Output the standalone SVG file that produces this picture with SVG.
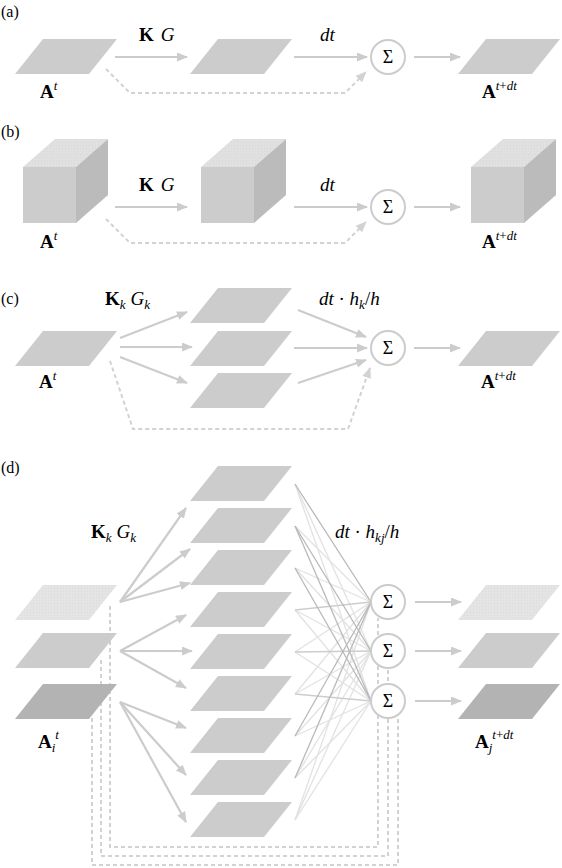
<svg xmlns="http://www.w3.org/2000/svg" width="562" height="868" viewBox="0 0 562 868">
<style>
text{font-family:'Liberation Serif','DejaVu Serif',serif;fill:#000}
.lbl{font-size:19px}
.sig{font-size:18px;text-anchor:middle}
.sup{font-size:13px}
.it{font-style:italic}
.bf{font-weight:bold}
.pg{fill:#cccccc}
.pgl{fill:url(#dotsL)}
.pgd{fill:#b3b3b3}
.arr{stroke:#cccccc;stroke-width:2.2;fill:none;marker-end:url(#ah)}
.dash{stroke:#d2d2d2;stroke-width:2;fill:none;stroke-dasharray:4 3}
.dasha{stroke:#d2d2d2;stroke-width:2;fill:none;stroke-dasharray:4 3;marker-end:url(#ahd)}
.sum{fill:#fff;stroke:#cccccc;stroke-width:2}
.wl{stroke:#e2e2e2;stroke-width:1.3}
.wm{stroke:#cdcdcd;stroke-width:1.3}
.wd{stroke:#b9b9b9;stroke-width:1.3}
</style>
<defs>
<marker id="ah" markerUnits="userSpaceOnUse" markerWidth="12" markerHeight="10" refX="10" refY="4.5" orient="auto"><path d="M0,0 L11,4.5 L0,9 Z" fill="#cccccc"/></marker>
<marker id="ahd" markerUnits="userSpaceOnUse" markerWidth="12" markerHeight="10" refX="10" refY="4.5" orient="auto"><path d="M0,0 L11,4.5 L0,9 Z" fill="#d2d2d2"/></marker>
<pattern id="dotsL" width="3" height="3" patternUnits="userSpaceOnUse"><rect width="3" height="3" fill="#e4e4e4"/><rect width="1" height="1" fill="#dadada"/></pattern>
<pattern id="dotsT" width="3" height="3" patternUnits="userSpaceOnUse"><rect width="3" height="3" fill="#e0e0e0"/><rect width="1" height="1" fill="#d8d8d8"/></pattern>
<path id="pgs" d="M0,35 L74,35 L102,0 L28,0 Z"/>
<g id="cube">
<rect x="0" y="28" width="53" height="56" fill="#cccccc"/>
<path d="M0,28 L32,0 L85,0 L53,28 Z" fill="url(#dotsT)"/>
<path d="M53,28 L85,0 L85,56 L53,84 Z" fill="#bbbbbb"/>
</g>
</defs>

<g id="panel-labels">
<text x="1" y="17" font-size="16">(a)</text>
<text x="1" y="137" font-size="16">(b)</text>
<text x="1" y="304" font-size="16">(c)</text>
<text x="1" y="473" font-size="16">(d)</text>
</g>

<g id="connectors">
<!-- (a) -->
<line class="arr" x1="115" y1="57" x2="187" y2="57"/>
<line class="arr" x1="294" y1="57" x2="367" y2="57"/>
<line class="arr" x1="414" y1="57" x2="460" y2="57"/>
<polyline class="dasha" points="106,69 130,93 345,93 366,72"/>
<!-- (b) -->
<line class="arr" x1="115" y1="207" x2="187" y2="207"/>
<line class="arr" x1="294" y1="207" x2="367" y2="207"/>
<line class="arr" x1="414" y1="207" x2="460" y2="207"/>
<polyline class="dasha" points="106,219 130,243 345,243 366,222"/>
<!-- (c) -->
<line class="arr" x1="120" y1="338" x2="187" y2="312"/>
<line class="arr" x1="120" y1="347" x2="192" y2="347"/>
<line class="arr" x1="120" y1="357" x2="187" y2="383"/>
<line class="arr" x1="298" y1="310" x2="366" y2="337"/>
<line class="arr" x1="294" y1="348" x2="367" y2="348"/>
<line class="arr" x1="298" y1="383" x2="366" y2="360"/>
<line class="arr" x1="414" y1="348" x2="460" y2="348"/>
<polyline class="dasha" points="110,361 133,429 348,429 370,368"/>
<!-- (d) dashed skip connections -->
<polyline class="dash" points="110,606 110,847 378,847 378,618"/>
<polyline class="dash" points="101,660 101,856 388,856 388,668"/>
<polyline class="dash" points="92,718 92,865 398,865 398,714"/>
<!-- (d) fan-out -->
<line class="arr" x1="120" y1="602" x2="186" y2="508"/>
<line class="arr" x1="120" y1="602" x2="190" y2="549"/>
<line class="arr" x1="120" y1="602" x2="190" y2="583"/>
<line class="arr" x1="120" y1="651" x2="186" y2="615"/>
<line class="arr" x1="120" y1="651" x2="192" y2="651"/>
<line class="arr" x1="120" y1="651" x2="186" y2="688"/>
<line class="arr" x1="120" y1="702" x2="186" y2="728"/>
<line class="arr" x1="120" y1="702" x2="186" y2="775"/>
<line class="arr" x1="120" y1="702" x2="186" y2="822"/>
<!-- (d) weighted sums -->
<g class="wl">
<line x1="295" y1="484" x2="371" y2="651"/><line x1="295" y1="484" x2="371" y2="701"/>
<line x1="295" y1="526" x2="371" y2="602"/>
<line x1="295" y1="568" x2="371" y2="602"/><line x1="295" y1="568" x2="371" y2="651"/>
<line x1="295" y1="610" x2="371" y2="651"/><line x1="295" y1="610" x2="371" y2="701"/>
<line x1="295" y1="652" x2="371" y2="602"/><line x1="295" y1="652" x2="371" y2="701"/>
<line x1="295" y1="694" x2="371" y2="602"/><line x1="295" y1="694" x2="371" y2="651"/>
<line x1="295" y1="736" x2="371" y2="651"/><line x1="295" y1="736" x2="371" y2="701"/>
<line x1="295" y1="778" x2="371" y2="651"/><line x1="295" y1="778" x2="371" y2="701"/>
<line x1="295" y1="820" x2="371" y2="602"/><line x1="295" y1="820" x2="371" y2="651"/><line x1="295" y1="820" x2="371" y2="701"/>
</g>
<g class="wm">
<line x1="295" y1="610" x2="371" y2="602"/>
<line x1="295" y1="652" x2="371" y2="651"/>
<line x1="295" y1="694" x2="371" y2="701"/>
</g>
<g class="wd">
<line x1="295" y1="484" x2="371" y2="602"/>
<line x1="295" y1="526" x2="371" y2="651"/>
<line x1="295" y1="526" x2="371" y2="701"/>
<line x1="295" y1="568" x2="371" y2="701"/>
<line x1="295" y1="736" x2="371" y2="602"/>
<line x1="295" y1="778" x2="371" y2="602"/>
</g>
<line class="arr" x1="415" y1="602" x2="461" y2="602"/>
<line class="arr" x1="415" y1="651" x2="461" y2="651"/>
<line class="arr" x1="415" y1="701" x2="461" y2="701"/>
</g>

<!-- (a) nodes -->
<g id="a-in"><use href="#pgs" class="pg" transform="translate(15,39)"/>
<text class="lbl" x="40" y="98"><tspan class="bf">A</tspan><tspan class="sup it" dy="-8">t</tspan></text></g>
<g id="a-mid"><use href="#pgs" class="pg" transform="translate(190,39)"/></g>
<g id="a-sum"><circle class="sum" cx="388" cy="57" r="17"/><text class="sig" x="388" y="63">Σ</text></g>
<g id="a-out"><use href="#pgs" class="pg" transform="translate(458,39)"/>
<text class="lbl" x="482" y="98"><tspan class="bf">A</tspan><tspan class="sup it" dy="-8">t</tspan><tspan class="sup">+</tspan><tspan class="sup it">dt</tspan></text></g>
<g id="a-labels">
<text class="lbl" x="139" y="41"><tspan class="bf">K</tspan><tspan class="it" dx="7">G</tspan></text>
<text class="lbl it" x="320" y="41">dt</text>
</g>

<!-- (b) nodes -->
<g id="b-in"><use href="#cube" transform="translate(23,139)"/>
<text class="lbl" x="40" y="248"><tspan class="bf">A</tspan><tspan class="sup it" dy="-8">t</tspan></text></g>
<g id="b-mid"><use href="#cube" transform="translate(201,139)"/></g>
<g id="b-sum"><circle class="sum" cx="388" cy="207" r="17"/><text class="sig" x="388" y="213">Σ</text></g>
<g id="b-out"><use href="#cube" transform="translate(471,139)"/>
<text class="lbl" x="482" y="248"><tspan class="bf">A</tspan><tspan class="sup it" dy="-8">t</tspan><tspan class="sup">+</tspan><tspan class="sup it">dt</tspan></text></g>
<g id="b-labels">
<text class="lbl" x="139" y="191"><tspan class="bf">K</tspan><tspan class="it" dx="7">G</tspan></text>
<text class="lbl it" x="320" y="191">dt</text>
</g>

<!-- (c) nodes -->
<g id="c-in"><use href="#pgs" class="pg" transform="translate(15,331)"/>
<text class="lbl" x="39" y="388"><tspan class="bf">A</tspan><tspan class="sup it" dy="-8">t</tspan></text></g>
<g id="c-mid1"><use href="#pgs" class="pg" transform="translate(190,288)"/></g>
<g id="c-mid2"><use href="#pgs" class="pg" transform="translate(190,331)"/></g>
<g id="c-mid3"><use href="#pgs" class="pg" transform="translate(190,373)"/></g>
<g id="c-sum"><circle class="sum" cx="388" cy="348" r="17"/><text class="sig" x="388" y="354">Σ</text></g>
<g id="c-out"><use href="#pgs" class="pg" transform="translate(458,331)"/>
<text class="lbl" x="481" y="388"><tspan class="bf">A</tspan><tspan class="sup it" dy="-8">t</tspan><tspan class="sup">+</tspan><tspan class="sup it">dt</tspan></text></g>
<g id="c-labels">
<text class="lbl" x="105" y="305"><tspan class="bf">K</tspan><tspan class="sup it" dy="4">k</tspan><tspan class="it" dx="5" dy="-4">G</tspan><tspan class="sup it" dy="4">k</tspan></text>
<text class="lbl" x="319" y="305"><tspan class="it">dt</tspan> · <tspan class="it">h</tspan><tspan class="sup it" dy="4">k</tspan><tspan dy="-4">/</tspan><tspan class="it">h</tspan></text>
</g>

<!-- (d) nodes -->
<g id="d-in1"><use href="#pgs" class="pgl" transform="translate(15,585)"/></g>
<g id="d-in2"><use href="#pgs" class="pg" transform="translate(15,633)"/></g>
<g id="d-in3"><use href="#pgs" class="pgd" transform="translate(15,684)"/>
<text class="lbl" x="38" y="748"><tspan class="bf">A</tspan><tspan class="sup it" dy="4">i</tspan><tspan class="sup it" dy="-13">t</tspan></text></g>
<g id="d-mid1"><use href="#pgs" class="pg" transform="translate(190,466)"/></g>
<g id="d-mid2"><use href="#pgs" class="pg" transform="translate(190,508)"/></g>
<g id="d-mid3"><use href="#pgs" class="pg" transform="translate(190,550)"/></g>
<g id="d-mid4"><use href="#pgs" class="pg" transform="translate(190,592)"/></g>
<g id="d-mid5"><use href="#pgs" class="pg" transform="translate(190,634)"/></g>
<g id="d-mid6"><use href="#pgs" class="pg" transform="translate(190,676)"/></g>
<g id="d-mid7"><use href="#pgs" class="pg" transform="translate(190,718)"/></g>
<g id="d-mid8"><use href="#pgs" class="pg" transform="translate(190,760)"/></g>
<g id="d-mid9"><use href="#pgs" class="pg" transform="translate(190,802)"/></g>
<g id="d-sum1"><circle class="sum" cx="388" cy="602" r="17"/><text class="sig" x="388" y="608">Σ</text></g>
<g id="d-sum2"><circle class="sum" cx="388" cy="651" r="17"/><text class="sig" x="388" y="657">Σ</text></g>
<g id="d-sum3"><circle class="sum" cx="388" cy="701" r="17"/><text class="sig" x="388" y="707">Σ</text></g>
<g id="d-out1"><use href="#pgs" class="pgl" transform="translate(458,585)"/></g>
<g id="d-out2"><use href="#pgs" class="pg" transform="translate(458,633)"/></g>
<g id="d-out3"><use href="#pgs" class="pgd" transform="translate(458,684)"/>
<text class="lbl" x="475" y="748"><tspan class="bf">A</tspan><tspan class="sup it" dy="4">j</tspan><tspan class="sup it" dy="-13">t</tspan><tspan class="sup">+</tspan><tspan class="sup it">dt</tspan></text></g>
<g id="d-labels">
<text class="lbl" x="91" y="538"><tspan class="bf">K</tspan><tspan class="sup it" dy="4">k</tspan><tspan class="it" dx="5" dy="-4">G</tspan><tspan class="sup it" dy="4">k</tspan></text>
<text class="lbl" x="335" y="538"><tspan class="it">dt</tspan> · <tspan class="it">h</tspan><tspan class="sup it" dy="4">kj</tspan><tspan dy="-4">/</tspan><tspan class="it">h</tspan></text>
</g>
</svg>
